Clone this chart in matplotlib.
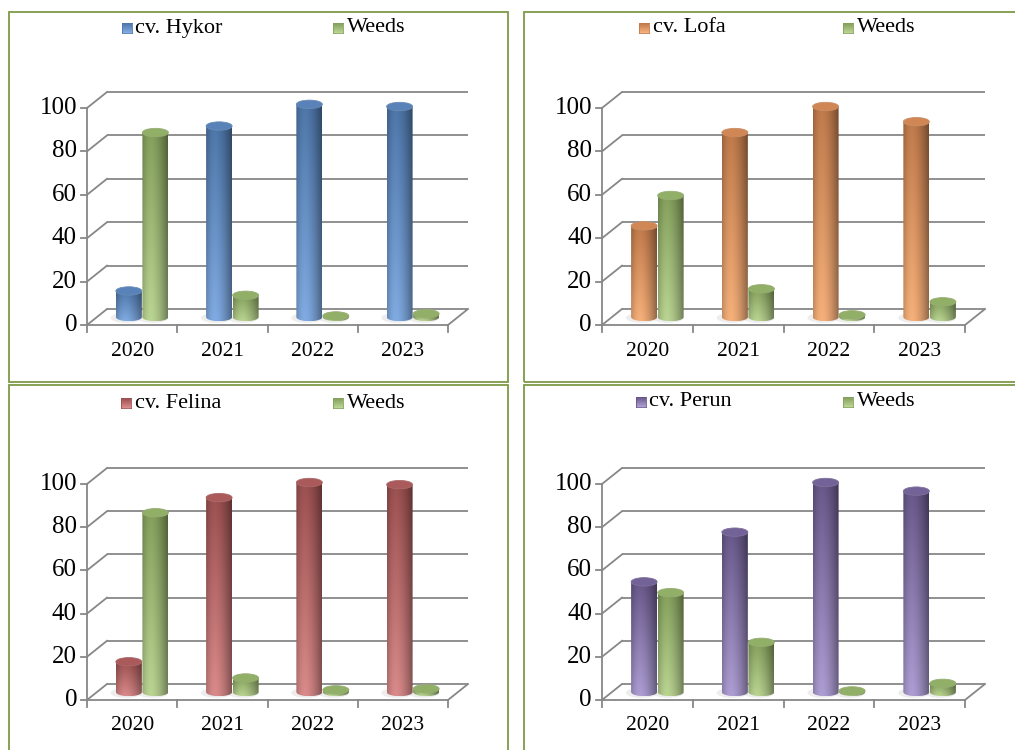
import numpy as np
import matplotlib
matplotlib.use('Agg')
import matplotlib.pyplot as plt
from matplotlib.patches import Ellipse, PathPatch, Rectangle
from matplotlib.path import Path
from matplotlib.colors import to_rgb

# ---------------- data ----------------
years = ['2020', '2021', '2022', '2023']
yticks = [0, 20, 40, 60, 80, 100]
cultivars = ['cv. Hykor', 'cv. Lofa', 'cv. Felina', 'cv. Perun']
weeds_label = 'Weeds'
hykor = [12, 88, 98, 97]
hykor_weeds = [85, 10, 0.5, 1.5]
lofa = [42, 85, 97, 90]
lofa_weeds = [56, 13, 1, 7]
felina = [14, 90, 97, 96]
felina_weeds = [83, 6.5, 1, 1.5]
perun = [51, 74, 97, 93]
perun_weeds = [46, 23, 0.5, 4]

series = [hykor, lofa, felina, perun]
weeds = [hykor_weeds, lofa_weeds, felina_weeds, perun_weeds]

# colours (top, bottom) of the gradient
cult_cols = [('#4E76A9', '#80ABE2'),
             ('#C07A4B', '#F6B07A'),
             ('#9C5050', '#DA8A8A'),
             ('#68588A', '#AD9DD3')]
weed_cols = ('#84A05C', '#BAD492')
olive = '#7D9B47'
gridc = '#878787'

W, H = 1015, 750
FONT = 'Liberation Serif'

fig = plt.figure(figsize=(W / 100, H / 100), dpi=100)

# panel layout (pixels): box, front axis x0,x1, y(0), y(100), legend positions
panels = [
    dict(box=(8.5, 11.5, 508, 382), x0=87, x1=448, y0=325, y100=108,
         leg=(122, 135, 333, 347, 28)),
    dict(box=(524, 11.5, 1030, 382), x0=602, x1=965, y0=325, y100=108,
         leg=(639, 653, 843, 857, 28)),
    dict(box=(8.5, 385, 508, 770), x0=87, x1=448, y0=700, y100=484,
         leg=(121, 135, 333, 347, 403)),
    dict(box=(524, 385, 1030, 770), x0=602, x1=965, y0=700, y100=484,
         leg=(636, 649, 843, 857, 402)),
]
DEPTH_X, DEPTH_Y = 20, 16      # pixels of 3-D depth
BAR_W_PX = 26
ELL_PX = 4.2


def shade_profile(n):
    u = np.linspace(0, 1, n)
    s = np.where(u < 0.35,
                 1 - 0.20 * ((0.35 - u) / 0.35) ** 2,
                 1 - 0.40 * ((u - 0.35) / 0.65) ** 1.6)
    return s


def cylinder(ax, xc, w, base, top, e, ctop, cbot, z):
    ctop = np.array(to_rgb(ctop))
    cbot = np.array(to_rgb(cbot))
    xl, xr = xc - w / 2, xc + w / 2
    # soft shadow on the floor
    ax.add_patch(Ellipse((xc - w * 0.1, base - 0.2 * e), w * 1.2, 2.4 * e,
                         facecolor='#b0b0b0', alpha=0.22, edgecolor='none',
                         zorder=z - 0.5))
    t = np.linspace(0, np.pi, 40)
    bx = xc + (w / 2) * np.cos(t)
    by = base - e * np.sin(t)
    verts = [(xl, top), (xr, top)] + list(zip(bx, by)) + [(xl, top)]
    path = Path(verts)
    clip = PathPatch(path, transform=ax.transData, facecolor='none',
                     edgecolor='none')
    nh, nw = 80, 40
    v = np.linspace(0, 1, nh)[:, None, None]
    col = ctop[None, None, :] * (1 - v) + cbot[None, None, :] * v
    s = shade_profile(nw)[None, :, None]
    img = np.clip(col * s, 0, 1)
    im = ax.imshow(img, extent=[xl, xr, base - e, top], origin='upper',
                   aspect='auto', interpolation='bilinear', zorder=z)
    im.set_clip_path(clip)
    topc = np.clip(ctop * 1.06 + 0.02, 0, 1)
    rim = np.clip(ctop * 0.85 + 0.15, 0, 1)
    ax.add_patch(Ellipse((xc, top), w, 2 * e, facecolor=topc,
                         edgecolor=rim, lw=0.6, zorder=z + 0.1))


for k, p in enumerate(panels):
    bx0, by0, bx1, by1 = p['box']
    x0, x1, y0, y100 = p['x0'], p['x1'], p['y0'], p['y100']
    pxcat = (x1 - x0) / 4.0
    pxunit = (y0 - y100) / 100.0
    ax = fig.add_axes([bx0 / W, 1 - by1 / H, (bx1 - bx0) / W, (by1 - by0) / H])
    ax.set_autoscale_on(False)
    ax.set_xlim(-0.5 + (bx0 - x0) / pxcat, -0.5 + (bx1 - x0) / pxcat)
    ax.set_ylim((y0 - by1) / pxunit, (y0 - by0) / pxunit)
    ax.axis('off')

    DX = DEPTH_X / pxcat
    DY = DEPTH_Y / pxunit
    xa, xb = -0.5, len(years) - 0.5

    # walls / gridlines
    for v in yticks:
        ax.plot([xa + DX, xb + DX], [v + DY, v + DY], color=gridc, lw=1.3,
                zorder=1, solid_capstyle='butt')
        ax.plot([xa, xa + DX], [v, v + DY], color=gridc, lw=1.3, zorder=1)
        ax.plot([xa - 6 / pxcat, xa], [v, v], color=gridc, lw=1.3, zorder=1)
        ax.text(xa - 10 / pxcat, v, str(v), ha='right', va='center',
                fontsize=18, family=FONT, color='black')
    ax.plot([xa, xa], [0, 100], color=gridc, lw=1.3, zorder=1)
    ax.plot([xa, xb], [0, 0], color=gridc, lw=1.3, zorder=1)
    ax.plot([xb, xb + DX], [0, DY], color=gridc, lw=1.3, zorder=1)
    for i in range(len(years) + 1):
        ax.plot([xa + i, xa + i], [0, -7 / pxunit], color=gridc, lw=1.3,
                zorder=1)
    for i, yr in enumerate(years):
        ax.text(i, -26 / pxunit, yr, ha='center', va='center',
                fontsize=15.5, family=FONT, color='black')

    # cylinders
    w = BAR_W_PX / pxcat
    e = ELL_PX / pxunit
    for i in range(len(years)):
        c = i + DX / 2
        base = DY / 2
        cylinder(ax, c - w / 2 - 0.003, w, base, base + series[k][i], e,
                 cult_cols[k][0], cult_cols[k][1], z=5 + i)
        cylinder(ax, c + w / 2 + 0.003, w, base, base + weeds[k][i], e,
                 weed_cols[0], weed_cols[1], z=5.3 + i)

    # legend
    m1, t1, m2, t2, ly = p['leg']
    for mx, tx, cols, lab in [(m1, t1, cult_cols[k], cultivars[k]),
                              (m2, t2, weed_cols, weeds_label)]:
        lax = fig.add_axes([mx / W, 1 - (ly + 5) / H, 10 / W, 10 / H])
        ct, cb = np.array(to_rgb(cols[0])), np.array(to_rgb(cols[1]))
        vv = np.linspace(0, 1, 10)[:, None, None]
        g = ct * (1 - vv) + cb * vv
        g = np.repeat(g, 10, axis=1)
        lax.imshow(g, aspect='auto', interpolation='bilinear')
        lax.set_xticks([]); lax.set_yticks([])
        for sp in lax.spines.values():
            sp.set_color(cols[0]); sp.set_linewidth(0.6)
        fig.text(tx / W, 1 - ly / H, lab, ha='left', va='center',
                 fontsize=16, family=FONT, color='black')

# panel borders
for p in panels:
    bx0, by0, bx1, by1 = p['box']
    fig.add_artist(Rectangle((bx0 / W, 1 - by1 / H), (bx1 - bx0) / W,
                             (by1 - by0) / H, transform=fig.transFigure,
                             fill=False, edgecolor=olive, lw=1.3))

fig.savefig('out.png', dpi=100, facecolor='white')
